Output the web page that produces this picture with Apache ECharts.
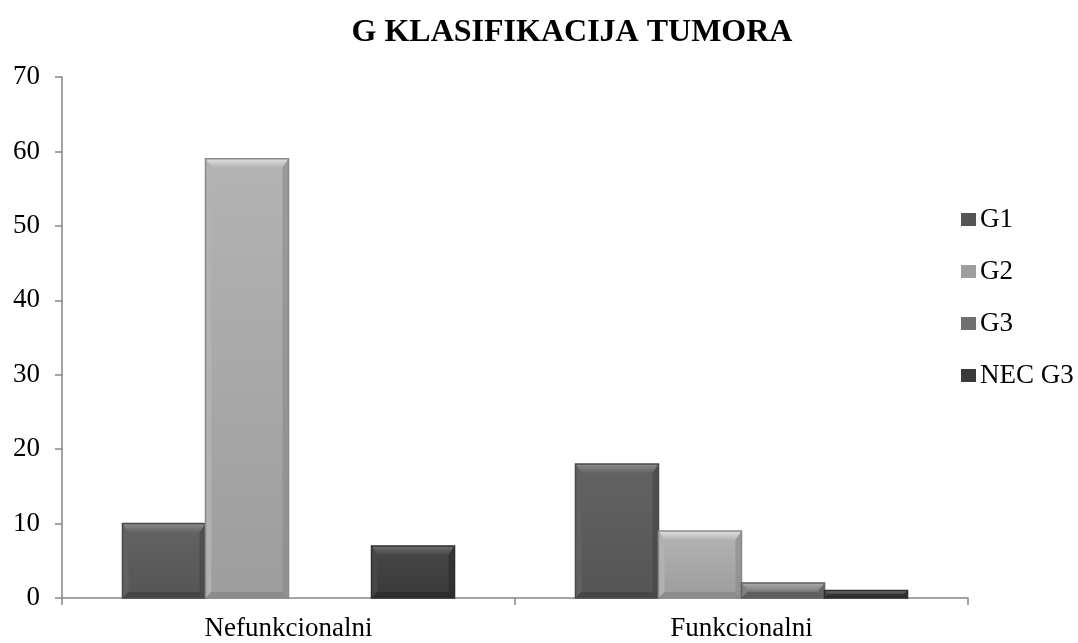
<!DOCTYPE html>
<html>
<head>
<meta charset="utf-8">
<script src="https://cdn.jsdelivr.net/npm/echarts@6/dist/echarts.min.js"></script>
<style>
    html, body { margin: 0; padding: 0; background: #fff; }
    #chart { width: 1078px; height: 643px; }
</style>
</head>
<body>
<div id="chart"></div>
<script>
const categories = ["Nefunkcionalni", "Funkcionalni"];
const seriesNames = ["G1", "G2", "G3", "NEC G3"];
const g1Values = [10, 18];
const g2Values = [59, 9];
const g3Values = [0, 2];
const necG3Values = [7, 1];
const yTicks = [0, 10, 20, 30, 40, 50, 60, 70];

// face colours (top -> bottom), bevel light/dark and edge
const seriesColors = [
    { top: "#636363", bottom: "#555555", light: "#8a8a8a", dark: "#444444", edge: "#4a4a4a" },
    { top: "#b3b3b3", bottom: "#9d9d9d", light: "#e0e0e0", dark: "#888888", edge: "#8a8a8a" },
    { top: "#828282", bottom: "#707070", light: "#acacac", dark: "#5a5a5a", edge: "#606060" },
    { top: "#474747", bottom: "#3a3a3a", light: "#707070", dark: "#2a2a2a", edge: "#2e2e2e" },
];

const allValues = [g1Values, g2Values, g3Values, necG3Values];
const serifFont = "'Liberation Serif', 'DejaVu Serif', serif";
const categoryGap = 0.267;

function bevelBar(seriesIndex) {
    const col = seriesColors[seriesIndex];
    return function (params, api) {
        const cat = api.value(0);
        const val = api.value(1);
        if (!val) {
            return null;
        }
        const base = api.coord([cat, 0]);
        const top = api.coord([cat, val]);
        const band = api.size([1, 0])[0];
        const groupW = band * (1 - categoryGap);
        const w = groupW / seriesNames.length;
        const x0 = base[0] - groupW / 2 + seriesIndex * w;
        const y0 = top[1];
        const h = base[1] - top[1];
        const b = Math.min(9, h / 2);
        const s = Math.min(6, h / 2);
        return {
            type: "group",
            children: [
                {
                    type: "rect",
                    shape: { x: x0, y: y0, width: w, height: h },
                    style: {
                        fill: new echarts.graphic.LinearGradient(0, 0, 0, 1, [
                            { offset: 0, color: col.top },
                            { offset: 1, color: col.bottom },
                        ]),
                    },
                },
                {
                    type: "polygon",
                    shape: { points: [[x0, y0], [x0 + w, y0], [x0 + w - s, y0 + b], [x0 + s, y0 + b]] },
                    style: {
                        fill: new echarts.graphic.LinearGradient(0, 0, 0, 1, [
                            { offset: 0, color: col.light },
                            { offset: 1, color: col.top },
                        ]),
                    },
                },
                {
                    type: "polygon",
                    shape: { points: [[x0, y0], [x0 + s, y0 + b], [x0 + s, y0 + h - s], [x0, y0 + h]] },
                    style: { fill: col.top, opacity: 0.9 },
                },
                {
                    type: "polygon",
                    shape: { points: [[x0 + w, y0], [x0 + w - s, y0 + b], [x0 + w - s, y0 + h - s], [x0 + w, y0 + h]] },
                    style: { fill: col.dark, opacity: 0.6 },
                },
                {
                    type: "polygon",
                    shape: { points: [[x0, y0 + h], [x0 + s, y0 + h - s], [x0 + w - s, y0 + h - s], [x0 + w, y0 + h]] },
                    style: { fill: col.dark, opacity: 0.8 },
                },
                {
                    type: "rect",
                    shape: { x: x0, y: y0, width: w, height: h },
                    style: { fill: "none", stroke: col.edge, lineWidth: 1.5 },
                },
            ],
        };
    };
}

const chart = echarts.init(document.getElementById("chart"), null, { renderer: "canvas" });

chart.setOption({
    animation: false,
    title: {
        text: "G KLASIFIKACIJA TUMORA",
        left: 567,
        textAlign: "center",
        top: 12,
        textStyle: {
            fontFamily: serifFont,
            fontWeight: "bold",
            fontSize: 32,
            color: "#000",
        },
    },
    grid: {
        left: 62,
        right: 110,
        top: 77,
        bottom: 45,
        containLabel: false,
    },
    legend: {
        orient: "vertical",
        left: 956,
        top: 201,
        itemGap: 25,
        itemWidth: 15,
        itemHeight: 13,
        icon: "rect",
        data: seriesNames,
        textStyle: {
            fontFamily: serifFont,
            fontSize: 27,
            lineHeight: 27,
            color: "#000",
            padding: [0, 0, 0, -1],
        },
    },
    xAxis: {
        type: "category",
        data: categories,
        axisLine: { lineStyle: { color: "#868686", width: 1.5 } },
        axisTick: { show: true, length: 7, lineStyle: { color: "#868686", width: 1.5 } },
        axisLabel: {
            fontFamily: serifFont,
            fontSize: 27,
            color: "#000",
            margin: 17,
        },
    },
    yAxis: {
        type: "value",
        min: yTicks[0],
        max: yTicks[yTicks.length - 1],
        interval: 10,
        axisLine: { show: true, lineStyle: { color: "#868686", width: 1.5 } },
        axisTick: { show: true, length: 7, lineStyle: { color: "#868686", width: 1.5 } },
        splitLine: { show: false },
        axisLabel: {
            fontFamily: serifFont,
            fontSize: 27,
            color: "#000",
            margin: 22,
        },
    },
    series: seriesNames.map((name, i) => ({
        name: name,
        type: "custom",
        renderItem: bevelBar(i),
        data: allValues[i].map((v, c) => [c, v]),
        encode: { x: 0, y: 1 },
        itemStyle: {
            color: seriesColors[i].bottom,
        },
    })),
});
</script>
</body>
</html>
